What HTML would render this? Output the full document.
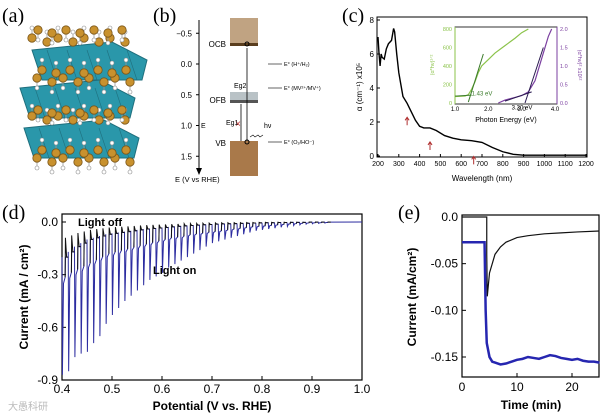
<!DOCTYPE html>
<html><head><meta charset="utf-8"><style>
html,body{margin:0;padding:0;background:#fff;}
svg{display:block;font-family:"Liberation Sans",sans-serif;}
.pl{font-family:"Liberation Serif",serif;font-size:20px;}
</style></head><body>
<svg id="s" width="600" height="417" viewBox="0 0 600 417">
<text class="pl" x="2" y="22">(a)</text>
<text class="pl" x="153" y="22">(b)</text>
<text class="pl" x="342" y="22">(c)</text>
<text class="pl" x="2" y="219">(d)</text>
<text class="pl" x="398" y="219">(e)</text>
<g id="ga"></g>
<g id="gb"></g>
<g id="gc"></g>
<g id="gd"></g>
<g id="ge"></g>
<text x="8" y="410" font-size="10" fill="#bbb">大愚科研</text>
</svg>
<script>
const absWl=[200,205,210,215,220,230,240,250,265,275,280,290,300,310,320,340,360,380,400,420,450,480,520,560,600,650,700,750,800,850,900,1000,1200];
const absVal=[7.0,6.0,5.3,6.0,5.8,5.7,6.3,6.6,6.8,7.5,7.3,6.0,4.9,4.2,3.5,3.1,2.6,2.1,1.75,1.65,1.65,1.5,1.2,1.05,0.95,0.9,0.8,0.5,0.25,0.1,0.05,0.05,0.05];
const absXTicks=[200,300,400,500,600,700,800,900,1000,1100,1200];
const absYTicks=[0,2,4,6,8];
const arrowWl=[340,450,660];
const greenE=[1.0,1.3,1.4,1.5,1.6,1.7,1.8,2.0,2.2,2.5,2.8,3.0,3.2];
const greenV=[70,75,90,150,230,330,400,470,540,620,700,760,800];
const purpleE=[2.3,2.5,2.8,3.0,3.2,3.4,3.6,3.8,3.9];
const purpleV=[0.0,0.08,0.15,0.2,0.3,0.6,1.2,1.8,2.0];
const chopStart=[0.4,0.4125,0.425,0.4375,0.45,0.4625,0.475,0.4875,0.5,0.5125,0.525,0.5375,0.55,0.5625,0.575,0.5875,0.6,0.6125,0.625,0.6375,0.65,0.6625,0.675,0.6875,0.7,0.7125,0.725,0.7375,0.75,0.7625,0.775,0.7875,0.8,0.8125,0.825,0.8375,0.85,0.8625,0.875,0.8875,0.9,0.9125,0.925];
const spikeOn=[-0.87,-0.85,-0.77,-0.75,-0.74,-0.69,-0.65,-0.58,-0.53,-0.49,-0.45,-0.42,-0.39,-0.36,-0.33,-0.31,-0.29,-0.26,-0.24,-0.22,-0.20,-0.18,-0.16,-0.14,-0.12,-0.11,-0.10,-0.09,-0.08,-0.07,-0.06,-0.05,-0.045,-0.04,-0.035,-0.03,-0.025,-0.02,-0.016,-0.012,-0.01,-0.008,-0.006];
const plateauOn=[-0.35,-0.32,-0.3,-0.28,-0.26,-0.24,-0.22,-0.2,-0.19,-0.18,-0.17,-0.16,-0.15,-0.14,-0.13,-0.12,-0.11,-0.1,-0.095,-0.09,-0.08,-0.075,-0.07,-0.065,-0.06,-0.055,-0.05,-0.045,-0.04,-0.035,-0.03,-0.027,-0.024,-0.021,-0.018,-0.015,-0.012,-0.01,-0.008,-0.006,-0.005,-0.004,-0.003];
const darkOff=[-0.2,-0.17,-0.14,-0.12,-0.1,-0.09,-0.08,-0.07,-0.065,-0.06,-0.055,-0.05,-0.045,-0.04,-0.037,-0.034,-0.031,-0.028,-0.025,-0.022,-0.02,-0.018,-0.016,-0.014,-0.012,-0.011,-0.01,-0.009,-0.008,-0.007,-0.006,-0.005,-0.004,-0.004,-0.003,-0.003,-0.002,-0.002,-0.002,-0.001,-0.001,-0.001,-0.001];
const dXTicks=[0.4,0.5,0.6,0.7,0.8,0.9,1.0];
const dYTicks=[0,-0.3,-0.6,-0.9];
const eBlackT=[0,4.5,4.5,4.6,5,5.5,6,7,8,10,12,15,18,21,25];
const eBlackV=[0,0,-0.04,-0.085,-0.06,-0.05,-0.04,-0.032,-0.027,-0.022,-0.02,-0.018,-0.017,-0.016,-0.015];
const eBlueT=[0,4.1,4.3,4.5,5,5.5,6,7,8,9,10,11,12,13,14,15,16,17,18,19,20,21,22,23,24,25];
const eBlueV=[-0.027,-0.027,-0.1,-0.135,-0.15,-0.155,-0.156,-0.158,-0.157,-0.155,-0.153,-0.152,-0.15,-0.151,-0.152,-0.15,-0.148,-0.149,-0.151,-0.152,-0.153,-0.152,-0.154,-0.155,-0.155,-0.156];
const eXTicks=[0,10,20];
const eYTicks=[0,-0.05,-0.10,-0.15];
const eYLabels=["0.0","-0.05","-0.10","-0.15"];

const NS="http://www.w3.org/2000/svg";
function mk(parent,tag,attrs,text){const e=document.createElementNS(NS,tag);for(const k in attrs)e.setAttribute(k,attrs[k]);if(text!==undefined)e.textContent=text;parent.appendChild(e);return e;}

// panel (a)
(function(){
const g=document.getElementById('ga');
function ball(x,y,up){
 mk(g,'line',{x1:x,y1:y,x2:x,y2:y+(up?-9:9),stroke:'#999','stroke-width':0.8});
 mk(g,'circle',{cx:x,cy:y+(up?-10:10),r:2,fill:'#fff',stroke:'#888','stroke-width':0.6});
 const c=mk(g,'circle',{cx:x,cy:y,r:4.2,fill:'#c8912e',stroke:'#7a5518','stroke-width':0.8});
 
 
}
const slabs=[[32,50],[20,88],[24,128]];
slabs.forEach(s=>{
 const p=mk(g,'polygon',{points:`${s[0]},${s[1]} ${s[0]+80},${s[1]-8} ${s[0]+115},${s[1]+10} ${s[0]+110},${s[1]+30} ${s[0]+10},${s[1]+30}`,fill:'#2a97aa',stroke:'#1f6f7d','stroke-width':1});
 
 
 for(let k=0;k<5;k++) mk(g,'line',{x1:s[0]+15+k*20,y1:s[1],x2:s[0]+25+k*20,y2:s[1]+30,stroke:'#1f6f7d','stroke-width':0.6});
});
[[38,0],[78,1],[116,0],[158,1]].forEach((r,ri)=>{for(let k=0;k<8;k++){ball(32+k*13+(ri%2)*5+(k%2)*2,r[0]+(k%2)*4,ri%2===0);}});
[[30,1],[70,0],[110,1],[150,0]].forEach((r,ri)=>{for(let k=0;k<7;k++){ball(38+k*14+(ri%2)*4,r[0]+(k%2)*3,ri%2===1);}});
})();

// panel (b)
(function(){
const g=document.getElementById('gb');
const y=v=>64+v*61.5;
mk(g,'rect',{x:230,y:18,width:28,height:27,fill:'#b08c63',opacity:0.8});
mk(g,'rect',{x:230,y:43,width:28,height:3,fill:'#5a3e1e'});
mk(g,'rect',{x:230,y:92,width:28,height:10,fill:'#b9c2c6'});
mk(g,'rect',{x:230,y:100,width:28,height:3,fill:'#555'});
mk(g,'rect',{x:230,y:141,width:28,height:35,fill:'#a9794a'});
mk(g,'line',{x1:199,y1:20,x2:199,y2:170,stroke:'#000','stroke-width':1});
mk(g,'polygon',{points:'196,168 202,168 199,175',fill:'#000'});
[-0.5,0,0.5,1.0,1.5].forEach(v=>{
 mk(g,'line',{x1:196,y1:y(v),x2:199,y2:y(v),stroke:'#000'});
 const t=mk(g,'text',{x:192,y:y(v)+3,'font-size':8,'text-anchor':'end'},v===-0.5?'−0.5':v.toFixed(1));
 
 
});
mk(g,'text',{x:226,y:47,'font-size':8,'text-anchor':'end'},'OCB');
mk(g,'text',{x:226,y:103,'font-size':8,'text-anchor':'end'},'OFB');
mk(g,'text',{x:226,y:146,'font-size':8,'text-anchor':'end'},'VB');
mk(g,'text',{x:201,y:128,'font-size':7},'E');
mk(g,'text',{x:175,y:182,'font-size':7.5},'E (V vs RHE)');
mk(g,'line',{x1:247,y1:141,x2:247,y2:48,stroke:'#000','stroke-width':0.8});
mk(g,'line',{x1:241,y1:141,x2:241,y2:104,stroke:'#000','stroke-width':0.8});
mk(g,'text',{x:235,y:127,'font-size':10,fill:'#c03030'},'×');
mk(g,'circle',{cx:247,cy:44,r:2,fill:'none',stroke:'#000'});
mk(g,'circle',{cx:247,cy:142,r:2,fill:'none',stroke:'#000'});
mk(g,'text',{x:234,y:88,'font-size':7},'Eg2');
mk(g,'text',{x:226,y:125,'font-size':7},'Eg1');
mk(g,'path',{d:'M250,137 l3,-2 l2,2 l3,-2 l2,2 l3,-2',fill:'none',stroke:'#000','stroke-width':0.6});
mk(g,'text',{x:264,y:128,'font-size':7},'hν');
[[64,'E° (H⁺/H₂)'],[88,'E° (MV²⁺/MV⁺)'],[142,'E° (O₂/HO⁻)']].forEach(a=>{
 mk(g,'line',{x1:268,y1:a[0],x2:282,y2:a[0],stroke:'#000','stroke-width':0.6});
 mk(g,'text',{x:284,y:a[0]+2,'font-size':5.5},a[1]);
});
})();

// panel (c)
(function(){
const g=document.getElementById('gc');
const X=v=>378+(v-200)*(208/1000), Y=v=>156-v*17;
mk(g,'rect',{x:377,y:17,width:210,height:140,fill:'none',stroke:'#000','stroke-width':1});
absXTicks.forEach(v=>{mk(g,'line',{x1:X(v),y1:157,x2:X(v),y2:154,stroke:'#000'});
 const t=mk(g,'text',{x:X(v),y:166,'font-size':7,'text-anchor':'middle'},v);
 
 });
absYTicks.forEach(v=>{mk(g,'line',{x1:377,y1:Y(v),x2:380,y2:Y(v),stroke:'#000'});
 const t=mk(g,'text',{x:374,y:Y(v)+3,'font-size':8,'text-anchor':'end'},v);
 
 });
mk(g,'text',{x:482,y:181,'font-size':8,'text-anchor':'middle'},'Wavelength (nm)');
mk(g,'text',{x:0,y:0,'font-size':8,'text-anchor':'middle',transform:'translate(362,87) rotate(-90)'},'α (cm⁻¹) x10⁵');
const p=mk(g,'path',{d:absWl.map((w,i)=>(i?'L':'M')+X(w)+','+Y(absVal[i])).join(''),fill:'none',stroke:'#000','stroke-width':1.4});


arrowWl.forEach(w=>{const i=absWl.findIndex(v=>v>=w);const yy=Y(absVal[i])+14;
 const a=mk(g,'path',{d:`M${X(w)},${yy+8} L${X(w)},${yy} M${X(w)-2},${yy+3} L${X(w)},${yy} L${X(w)+2},${yy+3}`,stroke:'#b03030',fill:'none','stroke-width':1});
 
 });
const IX=v=>455+(v-1)*(100/3), IG=v=>103-v*(74/800), IP=v=>103-v*37;
mk(g,'rect',{x:455,y:27,width:102,height:77,fill:'#fff',stroke:'#000','stroke-width':0.8});
mk(g,'line',{x1:455,y1:27,x2:455,y2:104,stroke:'#8bc34a','stroke-width':1});
mk(g,'line',{x1:557,y1:27,x2:557,y2:104,stroke:'#7b3fa0','stroke-width':1});
[0,200,400,600,800].forEach(v=>mk(g,'text',{x:452,y:IG(v)+2,'font-size':5.5,fill:'#8bc34a','text-anchor':'end'},v));
[0,0.5,1.0,1.5,2.0].forEach(v=>mk(g,'text',{x:560,y:IP(v)+2,'font-size':5.5,fill:'#7b3fa0'},v.toFixed(1)));
[1.0,2.0,3.0,4.0].forEach(v=>mk(g,'text',{x:IX(v),y:111,'font-size':6,'text-anchor':'middle'},v.toFixed(1)));
mk(g,'text',{x:506,y:122,'font-size':7,'text-anchor':'middle'},'Photon Energy (eV)');
mk(g,'text',{x:0,y:0,'font-size':5.5,fill:'#8bc34a','text-anchor':'middle',transform:'translate(434,65) rotate(-90)'},'(α*hν)¹ᐟ²');
mk(g,'text',{x:0,y:0,'font-size':5.5,fill:'#7b3fa0','text-anchor':'middle',transform:'translate(578,65) rotate(90)'},'(α*hν)² x10¹²');
const gp=mk(g,'path',{d:greenE.map((e,i)=>(i?'L':'M')+IX(e)+','+IG(greenV[i])).join(''),fill:'none',stroke:'#8bc34a','stroke-width':1.2});


const pp=mk(g,'path',{d:purpleE.map((e,i)=>(i?'L':'M')+IX(e)+','+IP(purpleV[i])).join(''),fill:'none',stroke:'#7b3fa0','stroke-width':1.2});


mk(g,'line',{x1:IX(1.4),y1:IG(10),x2:IX(1.85),y2:IG(530),stroke:'#3a7a2a','stroke-width':1});
mk(g,'line',{x1:IX(1.0),y1:IG(75),x2:IX(1.5),y2:IG(85),stroke:'#3a7a2a','stroke-width':1});
mk(g,'line',{x1:IX(3.1),y1:IP(0),x2:IX(3.65),y2:IP(1.5),stroke:'#2a1a50','stroke-width':1});
mk(g,'line',{x1:IX(2.5),y1:IP(0.05),x2:IX(3.3),y2:IP(0.3),stroke:'#2a1a50','stroke-width':1});
mk(g,'text',{x:IX(1.5),y:IG(80),'font-size':6,fill:'#3a7a2a'},'1.43 eV');
mk(g,'text',{x:IX(2.7),y:IP(-0.18),'font-size':6},'3.20 eV');
})();

// panel (d)
(function(){
const g=document.getElementById('gd');
const X=v=>62+(v-0.4)*500, Y=v=>222-v*(158/0.9);
mk(g,'rect',{x:62,y:214,width:300,height:166,fill:'none',stroke:'#000','stroke-width':1.2});
dXTicks.forEach(v=>{mk(g,'line',{x1:X(v),y1:380,x2:X(v),y2:376,stroke:'#000'});
 const t=mk(g,'text',{x:X(v),y:393,'font-size':12,'text-anchor':'middle'},v.toFixed(1));
 
 });
dYTicks.forEach(v=>{mk(g,'line',{x1:62,y1:Y(v),x2:66,y2:Y(v),stroke:'#000'});
 const t=mk(g,'text',{x:58,y:Y(v)+4,'font-size':12,'text-anchor':'end'},v===0?'0.0':v.toFixed(1));
 
 });
mk(g,'text',{x:212,y:410,'font-size':12,'font-weight':'bold','text-anchor':'middle'},'Potential (V vs. RHE)');
mk(g,'text',{x:0,y:0,'font-size':12,'font-weight':'bold','text-anchor':'middle',transform:'translate(28,297) rotate(-90)'},'Current (mA / cm²)');
const per=0.0125;
let bd='',kd='';
chopStart.forEach((x0,i)=>{
 const xa=X(x0), xm=X(x0+per*0.5), xe=X(x0+per);
 bd+=(i?'L':'M')+xa+','+Y(darkOff[i])+'L'+(xa+0.4)+','+Y(spikeOn[i])+'L'+(xa+1.5)+','+Y(plateauOn[i])+'L'+xm+','+Y(plateauOn[i]*0.9)+'L'+(xm+0.3)+','+Y(darkOff[i])+'L'+xe+','+Y(darkOff[i]);
 kd+='M'+xm+','+Y(plateauOn[i]*0.9)+'L'+(xm+0.3)+','+Y(darkOff[i]*0.45)+'L'+(xm+1.5)+','+Y(darkOff[i])+'L'+xe+','+Y(darkOff[i]);
});
bd+='L'+X(1.0)+','+Y(0);
const bp=mk(g,'path',{d:bd,fill:'none',stroke:'#2c2ca0','stroke-width':1});


const kp=mk(g,'path',{d:kd,fill:'none',stroke:'#111','stroke-width':1});


mk(g,'text',{x:78,y:226,'font-size':11,'font-weight':'bold'},'Light off');
mk(g,'text',{x:153,y:274,'font-size':11,'font-weight':'bold'},'Light on');
})();

// panel (e)
(function(){
const g=document.getElementById('ge');
const X=v=>462+v*5.5, Y=v=>217+v*(-140/0.15);
mk(g,'rect',{x:462,y:215,width:137,height:162,fill:'none',stroke:'#000','stroke-width':1.2});
eXTicks.forEach(v=>{mk(g,'line',{x1:X(v),y1:377,x2:X(v),y2:373,stroke:'#000'});
 const t=mk(g,'text',{x:X(v),y:391,'font-size':12,'text-anchor':'middle'},v);
 
 });
eYTicks.forEach((v,i)=>{mk(g,'line',{x1:462,y1:Y(v),x2:466,y2:Y(v),stroke:'#000'});
 const t=mk(g,'text',{x:458,y:Y(v)+4,'font-size':12,'text-anchor':'end'},eYLabels[i]);
 
 });
mk(g,'text',{x:531,y:409,'font-size':12,'font-weight':'bold','text-anchor':'middle'},'Time (min)');
mk(g,'text',{x:0,y:0,'font-size':12,'font-weight':'bold','text-anchor':'middle',transform:'translate(416,297) rotate(-90)'},'Current (mA/cm²)');
const bk=mk(g,'path',{d:eBlackT.map((t,i)=>(i?'L':'M')+X(t)+','+Y(eBlackV[i])).join(''),fill:'none',stroke:'#111','stroke-width':1.2});


const bl=mk(g,'path',{d:eBlueT.map((t,i)=>(i?'L':'M')+X(t)+','+Y(eBlueV[i])).join(''),fill:'none',stroke:'#2626b0','stroke-width':2.5});


})();
</script>
</body></html>
